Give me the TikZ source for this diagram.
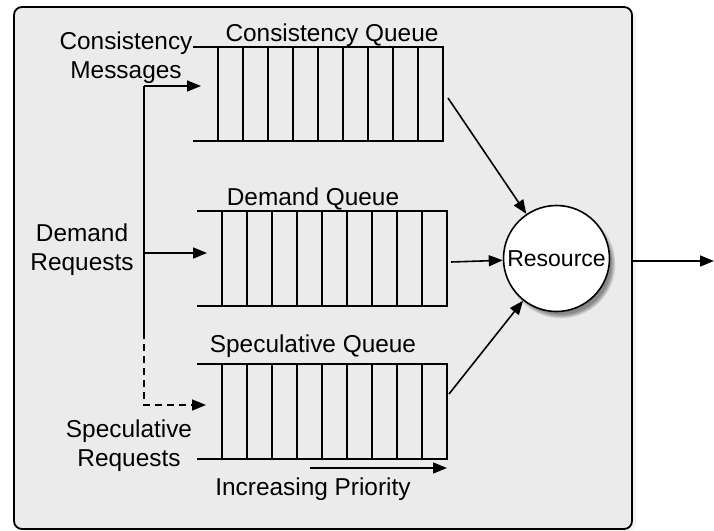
\documentclass[tikz,border=0pt]{standalone}
\usepackage{fontspec}
\setmainfont{Liberation Sans}
\usetikzlibrary{arrows.meta}
\definecolor{panelgray}{RGB}{235,235,235}
\tikzset{
  lbl/.style={font=\fontsize{12.2}{14.5}\selectfont,inner sep=0pt,anchor=base,align=center},
  qline/.style={line width=0.8pt},
  feed/.style={qline,-{Triangle[length=7pt,width=5.5pt]}},
}

\begin{document}
\begin{tikzpicture}[line join=miter,x=0.5pt,y=-0.5pt]
\useasboundingbox (0,0) rectangle (714,531);
% panel
\fill[black,opacity=0.05,rounded corners=4pt] (16,9) rectangle (636,531);
\draw[line width=0.9pt,fill=panelgray,rounded corners=4pt] (14,7) rectangle (632,529);
\coordinate (panel east) at (632,261);
\coordinate (out) at (714,261);
% queues
\foreach \qx/\qt/\qb in {218/47/141,222/211/306,222/364/459} {
  \draw[qline] (\qx-25,\qt) -- (\qx+225,\qt) -- (\qx+225,\qb) -- (\qx-25,\qb);
  \foreach \k in {0,...,8}
    \draw[qline] (\qx+25*\k,\qt) -- (\qx+25*\k,\qb);
}
\node[lbl] (cons title) at (332,41.5) {Consistency Queue};
\node[lbl] (dem title) at (313,205) {Demand Queue};
\node[lbl] (spec title) at (313,352.5) {Speculative Queue};
\node[lbl] (prio) at (313,495) {Increasing Priority};
\coordinate (prio start) at (310,468);
\coordinate (prio end) at (447,468);
\draw[feed] (prio start) -- (prio end);
% sources (base = last line)
\node[lbl] (cons msg) at (126,78) {Consistency\\Messages};
\node[lbl] (dem req) at (82,270.7) {Demand\\Requests};
\node[lbl] (spec req) at (129,466.7) {Speculative\\Requests};
\coordinate (spine top) at (144,86);
\coordinate (spine dem) at (144,253);
\coordinate (spine split) at (144,332);
\coordinate (spine bot) at (144,405);
\coordinate (cons in) at (201,86);
\coordinate (dem in) at (207,253);
\coordinate (spec in) at (206,405);
\draw[qline] (spine top) -- (spine split);
\draw[feed] (spine top) -- (cons in);
\draw[feed] (spine dem) -- (dem in);
\draw[feed,dash pattern=on 3.5pt off 2.5pt] (spine split) -- (spine bot) -- (spec in);
% resource
\foreach \s in {0,...,6}
  \fill[black,opacity=0.07] (561,264) circle[radius=54.5-\s*0.7];
\node[draw,circle,fill=white,line width=0.8pt,minimum size=53pt,inner sep=0pt,
  font=\fontsize{11.5}{14.5}\selectfont] (res) at (556.5,258.5) {Resource};
\coordinate (cons out) at (448,98);
\coordinate (dem out) at (451,262);
\coordinate (spec out) at (449,394);
\draw[feed] (cons out) -- (res);
\draw[feed] (dem out) -- (res);
\draw[feed] (spec out) -- (res);
\draw[feed] (panel east) -- (out);
\end{tikzpicture}
\end{document}
